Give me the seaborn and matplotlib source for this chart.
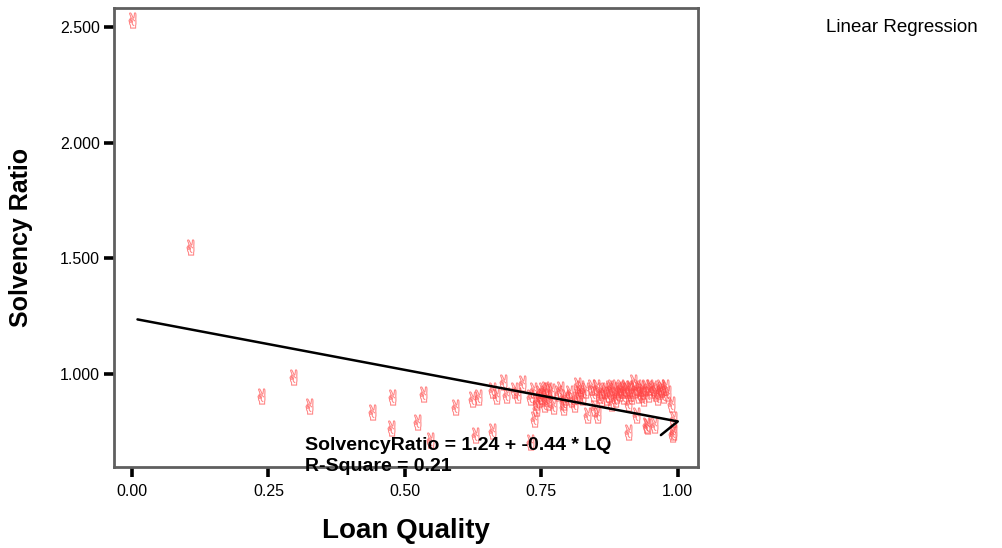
import matplotlib
matplotlib.use("Agg")
import matplotlib.pyplot as plt
import seaborn as sns
import pandas as pd

# ---- data ----
loan_quality = [
    0.000, 0.106, 0.236, 0.295, 0.324, 0.440, 0.474, 0.476, 0.522, 0.533,
    0.546, 0.592, 0.623, 0.634, 0.628, 0.659, 0.659, 0.667, 0.680, 0.685,
    0.700, 0.705, 0.714, 0.729, 0.729, 0.734, 0.736, 0.740, 0.740, 0.745,
    0.746, 0.750, 0.752, 0.755, 0.757, 0.758, 0.762, 0.762, 0.767, 0.771,
    0.780, 0.785, 0.789, 0.790, 0.793, 0.800, 0.805, 0.810, 0.815, 0.815,
    0.819, 0.820, 0.825, 0.830, 0.833, 0.841, 0.845, 0.846, 0.850, 0.852,
    0.855, 0.860, 0.860, 0.865, 0.868, 0.872, 0.874, 0.877, 0.878, 0.882,
    0.885, 0.886, 0.890, 0.892, 0.895, 0.897, 0.900, 0.903, 0.905, 0.908,
    0.908, 0.910, 0.913, 0.915, 0.917, 0.920, 0.923, 0.925, 0.927, 0.930,
    0.932, 0.935, 0.937, 0.940, 0.941, 0.943, 0.945, 0.947, 0.950, 0.955,
    0.956, 0.958, 0.962, 0.965, 0.968, 0.970, 0.972, 0.976, 0.980, 0.987,
    0.989, 0.991, 0.991,
]
solvency_ratio = [
    2.530, 1.550, 0.905, 0.987, 0.862, 0.836, 0.767, 0.900, 0.793, 0.914,
    0.715, 0.857, 0.892, 0.900, 0.736, 0.754, 0.931, 0.905, 0.965, 0.909,
    0.930, 0.910, 0.961, 0.706, 0.900, 0.931, 0.805, 0.879, 0.853, 0.890,
    0.920, 0.905, 0.930, 0.870, 0.935, 0.895, 0.930, 0.879, 0.925, 0.862,
    0.920, 0.935, 0.857, 0.880, 0.900, 0.920, 0.890, 0.870, 0.952, 0.905,
    0.918, 0.940, 0.900, 0.930, 0.823, 0.944, 0.920, 0.853, 0.945, 0.823,
    0.909, 0.930, 0.895, 0.930, 0.900, 0.915, 0.940, 0.875, 0.945, 0.930,
    0.890, 0.910, 0.935, 0.918, 0.945, 0.930, 0.905, 0.940, 0.930, 0.875,
    0.750, 0.940, 0.920, 0.905, 0.965, 0.930, 0.823, 0.945, 0.909, 0.940,
    0.915, 0.925, 0.895, 0.945, 0.780, 0.775, 0.915, 0.945, 0.931, 0.940,
    0.780, 0.920, 0.900, 0.925, 0.945, 0.935, 0.910, 0.944, 0.920, 0.870,
    0.740, 0.805, 0.750,
]
# fitted line as drawn by the source program (incl. its end artefact)
fit_x = [0.010, 1.000, 0.969]
fit_y = [1.236, 0.795, 0.736]

x_ticks = [0.00, 0.25, 0.50, 0.75, 1.00]
x_tick_labels = ["0.00", "0.25", "0.50", "0.75", "1.00"]
y_ticks = [1.0, 1.5, 2.0, 2.5]
y_tick_labels = ["1.000", "1.500", "2.000", "2.500"]

equation_text = "SolvencyRatio = 1.24 + -0.44 * LQ"
rsq_text = "R-Square = 0.21"

df = pd.DataFrame({"LQ": loan_quality, "SR": solvency_ratio})
fit_df = pd.DataFrame({"x": fit_x, "y": fit_y})

sns.set_style("white")
plt.rcParams["font.family"] = ["Liberation Sans", "DejaVu Sans"]
plt.rcParams["text.color"] = "black"
plt.rcParams["axes.labelcolor"] = "black"
plt.rcParams["xtick.color"] = "black"
plt.rcParams["ytick.color"] = "black"

fig = plt.figure(figsize=(10.02, 5.48), dpi=100)
ax = fig.add_axes([0.1138, 0.1478, 0.5828, 0.8376])

sns.scatterplot(data=df, x="LQ", y="SR", ax=ax, marker="$\u270C$", s=130,
                color="#ff4444", edgecolor="#ff4444", linewidth=0.3,
                alpha=0.55, zorder=2)
sns.lineplot(data=fit_df, x="x", y="y", ax=ax, sort=False, estimator=None,
             color="black", linewidth=1.8, zorder=3)

ax.set_xlim(-0.033, 1.037)
ax.set_ylim(0.598, 2.582)
ax.set_xticks(x_ticks)
ax.set_xticklabels(x_tick_labels)
ax.set_yticks(y_ticks)
ax.set_yticklabels(y_tick_labels)

for s in ax.spines.values():
    s.set_visible(True)
    s.set_color("#5f5f5f")
    s.set_linewidth(2.0)

ax.tick_params(axis="both", which="major", direction="out", length=7,
               width=2.6, color="black", labelsize=11.5, pad=3,
               bottom=True, left=True, top=False, right=False)
ax.tick_params(axis="x", pad=5)

ax.set_xlabel("Loan Quality", fontsize=20, fontweight="bold", labelpad=14)
ax.set_ylabel("Solvency Ratio", fontsize=18, fontweight="bold")
ax.yaxis.set_label_coords(-0.138, 0.5)

ax.text(0.317, 0.689, equation_text, fontsize=14, fontweight="bold",
        va="center", ha="left", zorder=4)
ax.text(0.317, 0.600, rsq_text, fontsize=14,
        fontweight="bold", va="center", ha="left", zorder=4, clip_on=False)

fig.text(0.8244, 0.949, "Linear Regression", fontsize=13.5, va="center",
         ha="left")

fig.savefig("out.png", dpi=100)
